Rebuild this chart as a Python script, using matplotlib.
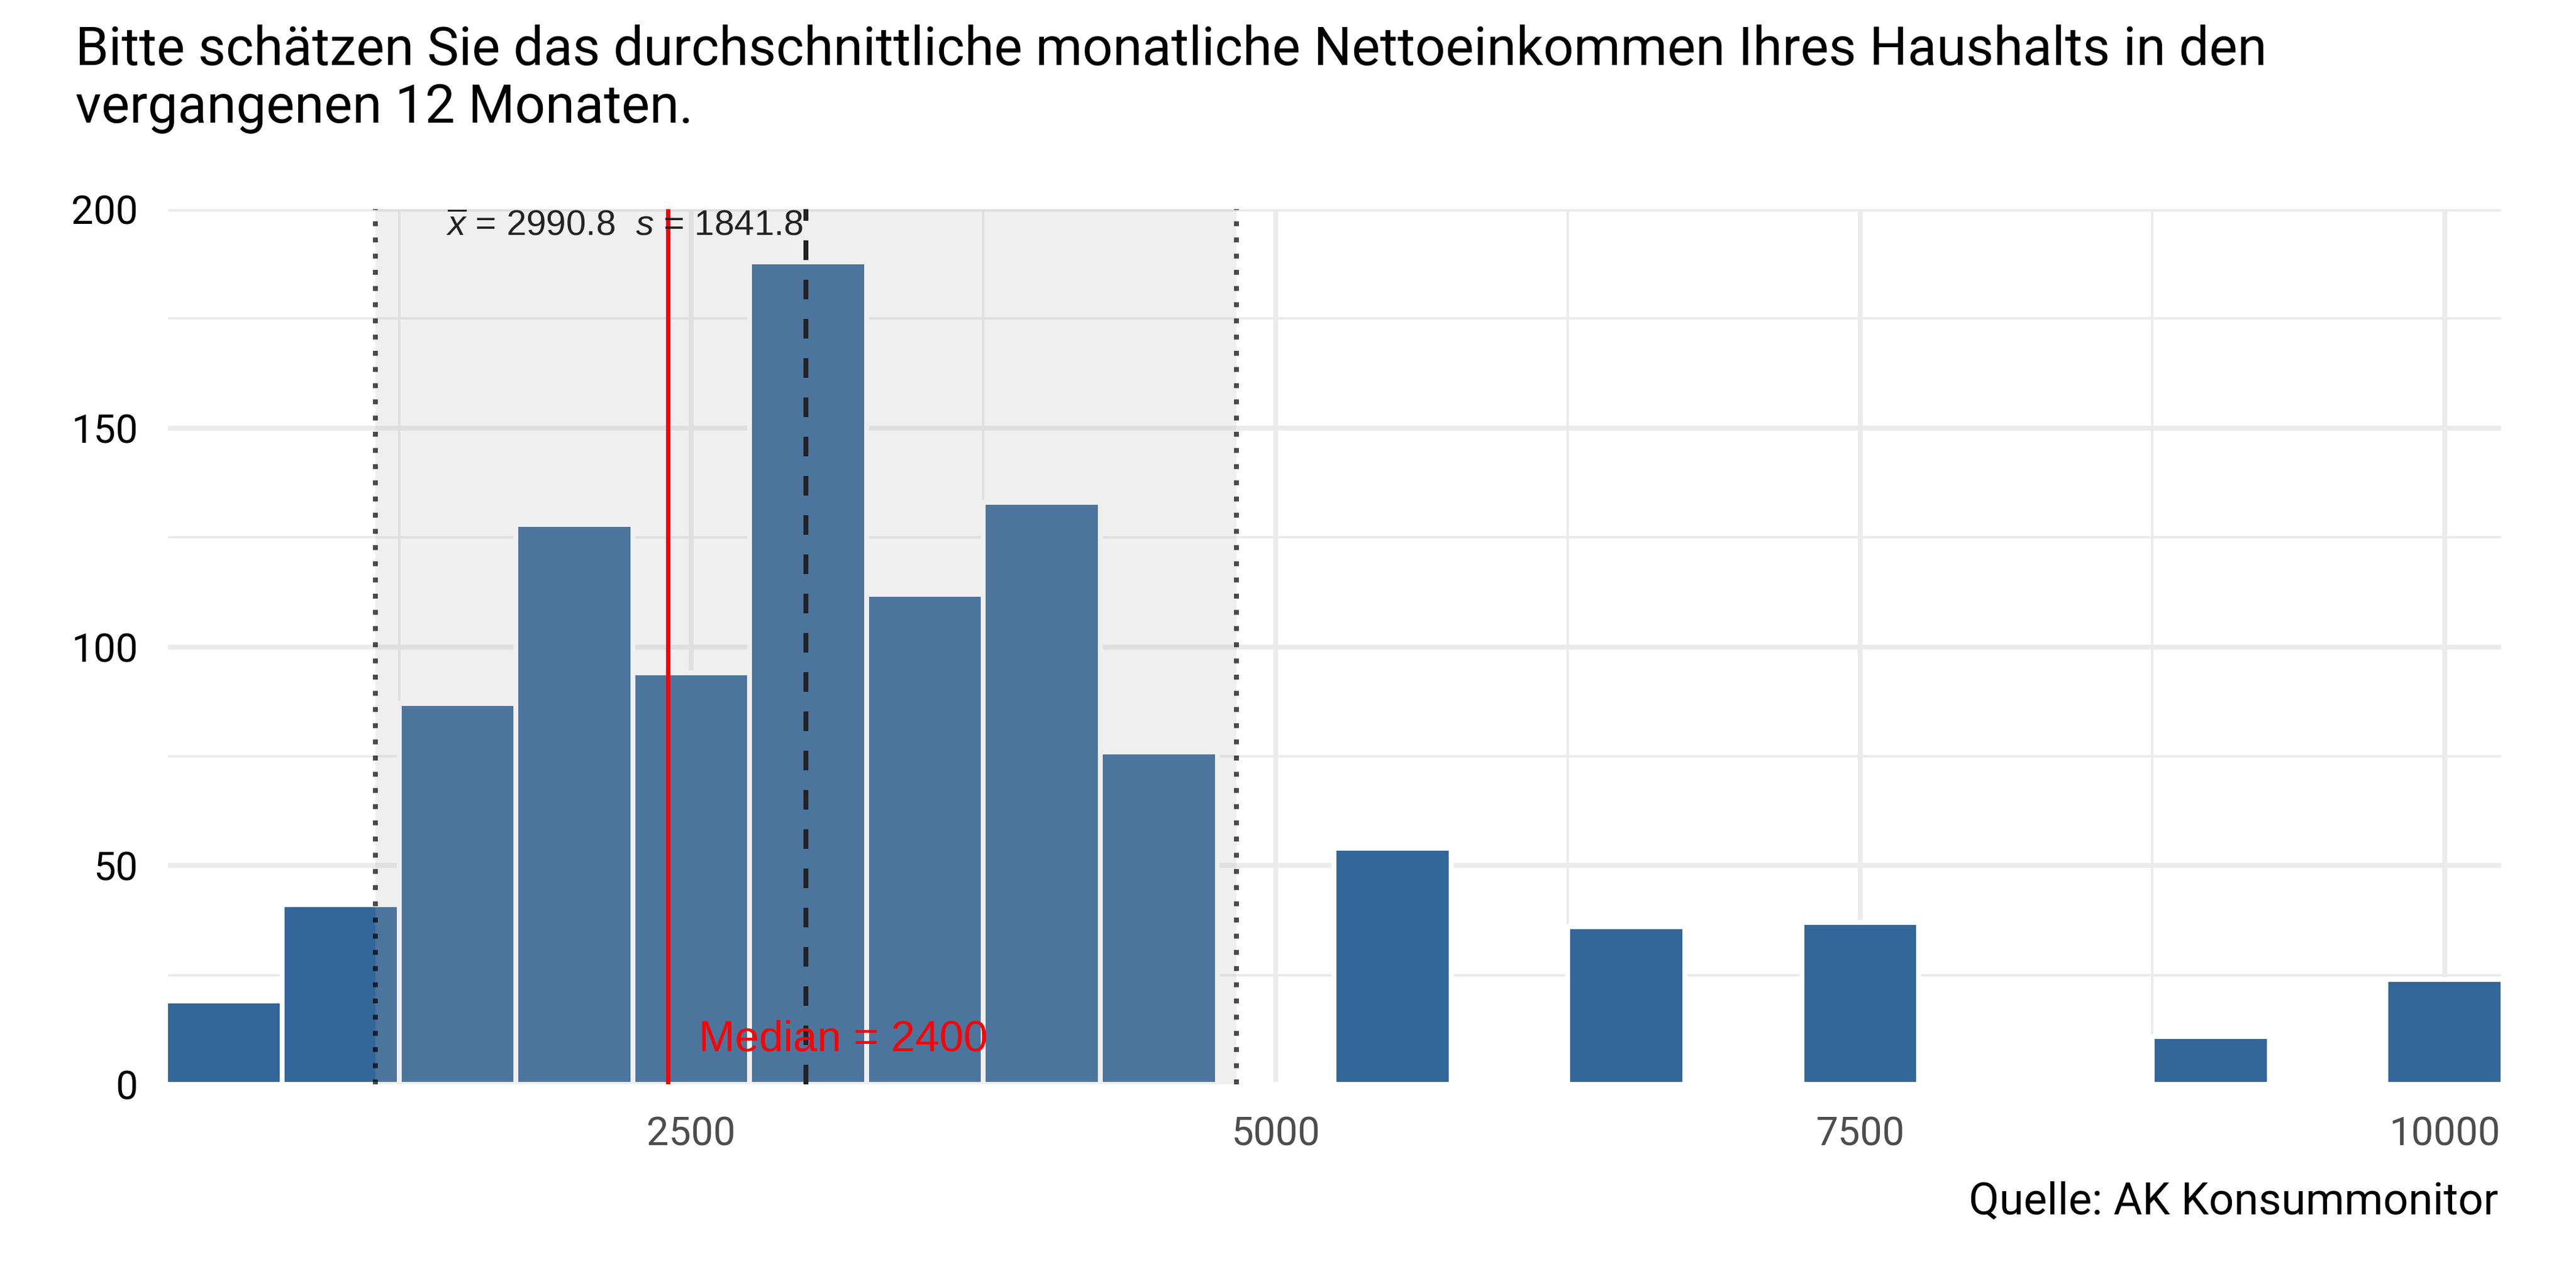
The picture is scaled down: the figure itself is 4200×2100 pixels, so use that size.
import matplotlib
matplotlib.use("Agg")
import matplotlib.pyplot as plt
from matplotlib.ticker import FixedLocator

# ---------------- data ----------------
title_text = ("Bitte schätzen Sie das durchschnittliche monatliche Nettoeinkommen Ihres Haushalts in den\n"
              "vergangenen 12 Monaten.")
caption_text = "Quelle: AK Konsummonitor"

bin_centers = [500, 1000, 1500, 2000, 2500, 3000, 3500, 4000, 4500, 5000,
               5500, 6000, 6500, 7000, 7500, 8000, 8500, 9000, 9500, 10000]
counts = [19, 41, 87, 128, 94, 188, 112, 133, 76, 0,
          54, 0, 36, 0, 37, 0, 0, 11, 0, 24]
bin_width = 500

mean_value = 2990.8
sd_value = 1841.8
median_value = 2400

x_major_ticks = [2500, 5000, 7500, 10000]
x_minor_ticks = [1250, 3750, 6250, 8750]
y_major_ticks = [0, 50, 100, 150, 200]
y_minor_ticks = [25, 75, 125, 175]
x_tick_labels = ["2500", "5000", "7500", "10000"]
y_tick_labels = ["0", "50", "100", "150", "200"]

# ---------------- style ----------------
plt.rcParams['font.family'] = ['Roboto', 'DejaVu Sans']
plt.rcParams['mathtext.fontset'] = 'custom'
plt.rcParams['mathtext.rm'] = 'Liberation Sans'
plt.rcParams['mathtext.it'] = 'Liberation Sans:italic'

DPI = 300
PX = 72.0 / DPI  # points per pixel

fig = plt.figure(figsize=(14, 7), dpi=DPI, facecolor="white")
ax = fig.add_axes([274 / 4200, 1 - 1768 / 2100, (4078 - 274) / 4200, (1768 - 341) / 2100])
ax.set_facecolor("white")
for s in ax.spines.values():
    s.set_visible(False)

ax.set_xlim(262, 10242)
ax.set_ylim(0, 200)

ax.xaxis.set_major_locator(FixedLocator(x_major_ticks))
ax.xaxis.set_minor_locator(FixedLocator(x_minor_ticks))
ax.yaxis.set_major_locator(FixedLocator(y_major_ticks))
ax.yaxis.set_minor_locator(FixedLocator(y_minor_ticks))
ax.set_xticklabels(x_tick_labels)
ax.set_yticklabels(y_tick_labels)

grid_col = "#EBEBEB"
ax.grid(which="major", color=grid_col, linewidth=8 * PX, zorder=0)
ax.grid(which="minor", color=grid_col, linewidth=4 * PX, zorder=0)
ax.set_axisbelow(True)

ax.tick_params(axis="both", which="both", length=0)
ax.tick_params(axis="x", which="major", labelsize=15.5, labelcolor="#4D4D4D", pad=50 * PX)
ax.tick_params(axis="y", which="major", labelsize=15.5, labelcolor="black", pad=49 * PX)

# bars
ax.bar(bin_centers, counts, width=bin_width, color="#336699",
       edgecolor="white", linewidth=8 * PX, zorder=2)

# shaded mean +/- sd
ax.axvspan(mean_value - sd_value, mean_value + sd_value, color="#B3B3B3",
           alpha=0.2, linewidth=0, zorder=3)

# dotted sd lines
for xv in (mean_value - sd_value, mean_value + sd_value):
    ax.axvline(xv, color="black", alpha=0.7, linewidth=8 * PX,
               linestyle=(0, (1, 2.3)), zorder=4)

# median line
ax.axvline(median_value, color="#FF0000", linewidth=7 * PX, zorder=5)
# mean line
ax.axvline(mean_value, color="#222222", linewidth=8 * PX,
           linestyle=(0, (4, 4)), zorder=6)

# annotations
ax.annotate(r"$\overline{x}$ = " + f"{mean_value:.1f}" + r"  $s$ = " + f"{sd_value:.1f}",
            xy=(mean_value, 200), xytext=(-1, 0), textcoords="offset points",
            ha="right", va="top", fontsize=14, color="#222222",
            family="Liberation Sans", zorder=7, annotation_clip=False)

ax.annotate(f"Median = {median_value}", xy=(median_value, 0),
            xytext=(50 * PX, 55 * PX), textcoords="offset points",
            ha="left", va="baseline", fontsize=17, color="#FF0000",
            family="Liberation Sans", zorder=7)

# title (two lines, baselines placed explicitly) & caption
title_lines = title_text.split("\n")
title_baselines_px = [106, 200]
for line, base in zip(title_lines, title_baselines_px):
    fig.text(123 / 4200, 1 - base / 2100, line, ha="left", va="baseline",
             fontsize=20.9, color="black")
fig.text(4073 / 4200, 1 - 1980 / 2100, caption_text, ha="right", va="baseline",
         fontsize=17.3, color="black")

fig.savefig("out.png", dpi=DPI, facecolor="white")
